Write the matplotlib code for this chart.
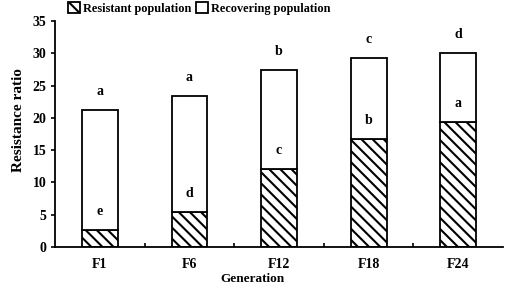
import matplotlib
matplotlib.use("Agg")
import matplotlib.pyplot as plt
import numpy as np

generations = ["F1", "F6", "F12", "F18", "F24"]
resistant = [2.6, 5.4, 12.0, 16.7, 19.3]
total = [21.2, 23.4, 27.4, 29.3, 30.0]
letters_total = ["a", "a", "b", "c", "d"]
letters_resist = ["e", "d", "c", "b", "a"]

plt.rcParams['font.family'] = ['Liberation Serif', 'DejaVu Serif']
plt.rcParams['font.weight'] = 'bold'
plt.rcParams['hatch.linewidth'] = 1.5

recovering = [t - r for t, r in zip(total, resistant)]
x = np.arange(len(generations))

fig = plt.figure(figsize=(5.05, 2.88), dpi=100)
ax = fig.add_axes([0.109, 0.143, 0.887, 0.784])

b1 = ax.bar(x, resistant, width=0.4, color="white", edgecolor="black",
            hatch="\\\\\\", linewidth=1.3, label="Resistant population")
b2 = ax.bar(x, recovering, width=0.4, bottom=resistant, color="white",
            edgecolor="black", linewidth=1.3, label="Recovering population")

for i in range(len(x)):
    ax.text(x[i], total[i] + 1.9, letters_total[i], ha="center", va="bottom",
            fontsize=10, fontweight="bold")
    ax.text(x[i], resistant[i] + 1.9, letters_resist[i], ha="center", va="bottom",
            fontsize=10, fontweight="bold")

ax.set_xlim(-0.5, 4.5)
ax.set_ylim(0, 35)
ax.set_yticks(range(0, 36, 5))
ax.set_xticks(x)
ax.set_xticklabels(generations, fontsize=10, fontweight="bold")
ax.tick_params(axis="x", length=0, pad=8)
ax.tick_params(axis="y", labelsize=10, direction="out", length=3, width=1.2, pad=3)
for lab in ax.get_yticklabels():
    lab.set_fontweight("bold")
# boundary ticks on the x axis
ax.set_xticks(np.arange(0.5, 4.5, 1), minor=True)
ax.tick_params(axis="x", which="minor", direction="in", length=3, width=1.2)

for s in ["top", "right"]:
    ax.spines[s].set_visible(False)
for s in ["left", "bottom"]:
    ax.spines[s].set_linewidth(1.3)

ax.set_xlabel("Generation", fontsize=9.5, fontweight="bold")
ax.xaxis.set_label_coords(0.44, -0.118)
ax.set_ylabel("Resistance ratio", fontsize=11, fontweight="bold")
ax.yaxis.set_label_coords(-0.068, 0.56)

fig.legend(handles=[b1, b2], loc="upper left", bbox_to_anchor=(62 / 505, 1 + 4 / 288),
           ncol=2, frameon=False, fontsize=8.8, handlelength=1.0, handleheight=1.0,
           handletextpad=0.25, columnspacing=0.35, borderpad=0)

plt.savefig("out.png", dpi=100)
